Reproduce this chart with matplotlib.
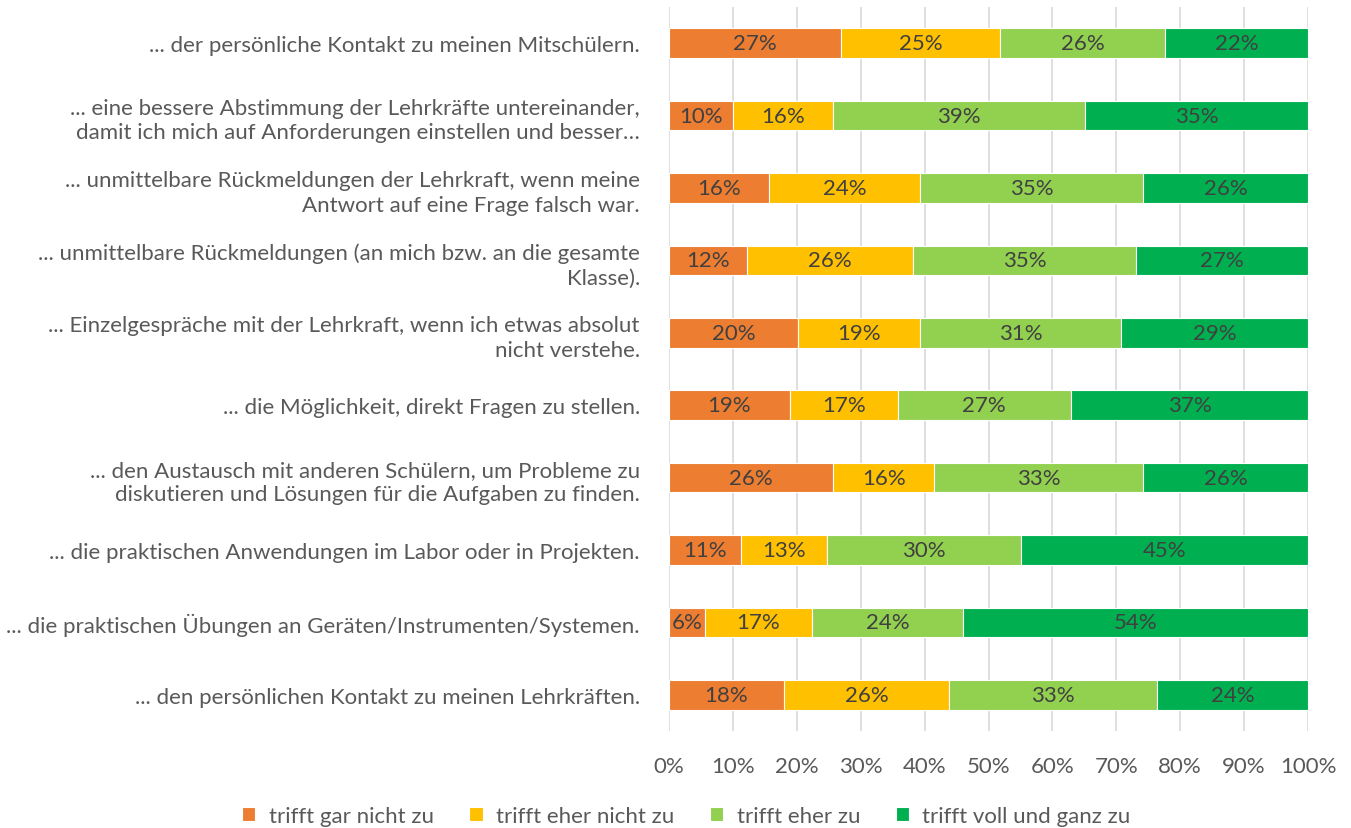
import numpy as np
import matplotlib.pyplot as plt

plt.rcParams['font.family'] = ['Lato', 'DejaVu Sans']

categories = [
    '... der persönliche Kontakt zu meinen Mitschülern.',
    '... eine bessere Abstimmung der Lehrkräfte untereinander,\ndamit ich mich auf Anforderungen einstellen und besser…',
    '... unmittelbare Rückmeldungen der Lehrkraft, wenn meine\nAntwort auf eine Frage falsch war.',
    '... unmittelbare Rückmeldungen (an mich bzw. an die gesamte\nKlasse).',
    '... Einzelgespräche mit der Lehrkraft, wenn ich etwas absolut\nnicht verstehe.',
    '... die Möglichkeit, direkt Fragen zu stellen.',
    '... den Austausch mit anderen Schülern, um Probleme zu\ndiskutieren und Lösungen für die Aufgaben zu finden.',
    '... die praktischen Anwendungen im Labor oder in Projekten.',
    '... die praktischen Übungen an Geräten/Instrumenten/Systemen.',
    '... den persönlichen Kontakt zu meinen Lehrkräften.',
]
series_names = ['trifft gar nicht zu', 'trifft eher nicht zu', 'trifft eher zu', 'trifft voll und ganz zu']
gar_nicht = [26.9, 10.0, 15.6, 12.2, 20.2, 18.9, 25.7, 11.3, 5.6, 18.0]
eher_nicht = [24.9, 15.7, 23.7, 26.0, 19.1, 16.9, 15.8, 13.4, 16.8, 25.8]
eher_zu = [25.8, 39.4, 34.9, 34.9, 31.4, 27.1, 32.7, 30.4, 23.6, 32.6]
voll = [22.4, 34.9, 25.8, 26.9, 29.3, 37.1, 25.8, 44.9, 54.0, 23.6]
colors = ['#ED7D31', '#FFC000', '#92D050', '#00B050']

fig = plt.figure(figsize=(13.51, 8.29), dpi=100)
ax = fig.add_axes([669 / 1351, 1 - 732 / 829, 639 / 1351, 724 / 829])

y = np.arange(len(categories))
left = np.zeros(len(categories))
for name, vals, c in zip(series_names, [gar_nicht, eher_nicht, eher_zu, voll], colors):
    vals = np.array(vals)
    ax.barh(y, vals, left=left, height=0.41, color=c, edgecolor='white', linewidth=0.8,
            label=name, zorder=3)
    for yi, l, v in zip(y, left, vals):
        ax.text(l + v / 2, yi, '%d%%' % round(v), ha='center', va='center',
                fontsize=16, color='#404040', zorder=4)
    left += vals

ax.set_xlim(0, 100)
ax.set_ylim(len(categories) - 0.5, -0.5)
ax.set_xticks(np.arange(0, 101, 10))
ax.set_xticklabels(['%d%%' % t for t in range(0, 101, 10)])
ax.set_yticks(y)
ax.set_yticklabels(categories, linespacing=1.3)
ax.tick_params(axis='both', length=0, labelsize=16, labelcolor='#595959')
ax.tick_params(axis='x', pad=18)
ax.tick_params(axis='y', pad=21)
ax.grid(axis='x', color='#D9D9D9', linewidth=1.2, zorder=0)
for s in ax.spines.values():
    s.set_visible(False)

# legend centred under the whole figure, like the Excel original
ax.legend(loc='center', bbox_to_anchor=(0.508, 0.015), bbox_transform=fig.transFigure,
          ncol=4, frameon=False, fontsize=16, labelcolor='#595959',
          handlelength=0.6, handleheight=0.6, columnspacing=1.6, handletextpad=0.6)

fig.savefig('out.png', dpi=100)
